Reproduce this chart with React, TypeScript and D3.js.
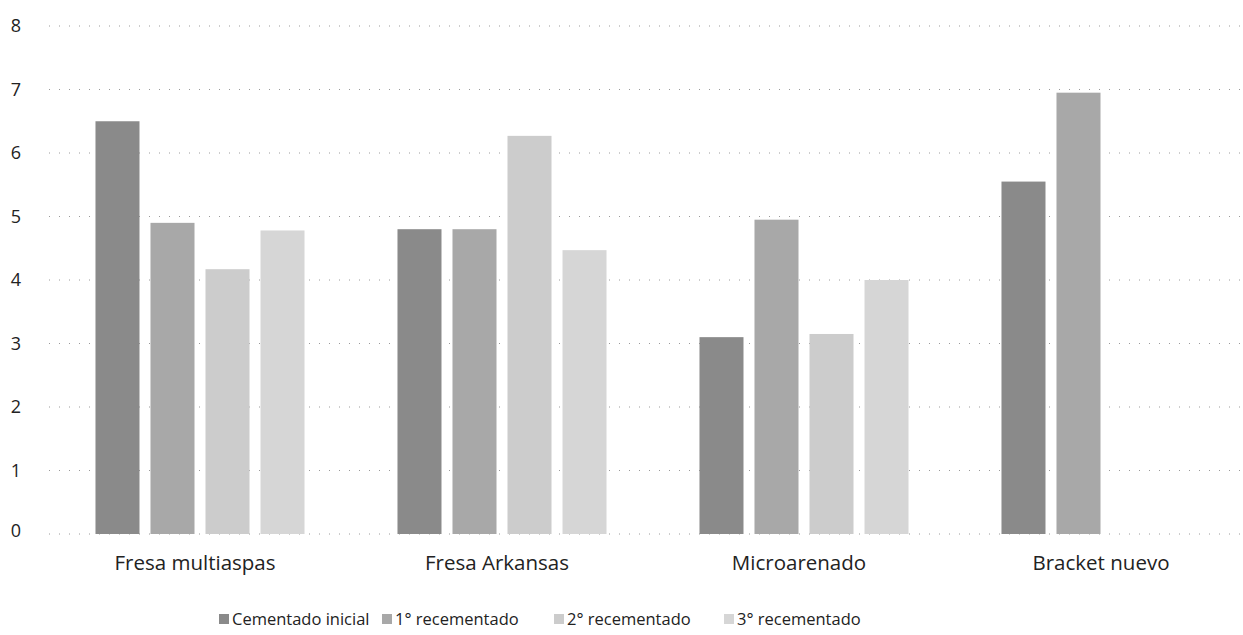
import React from "react";
import * as d3 from "d3";

const categories = ["Fresa multiaspas", "Fresa Arkansas", "Microarenado", "Bracket nuevo"];
const seriesNames = ["Cementado inicial", "1° recementado", "2° recementado", "3° recementado"];
const cementadoInicial = [6.5, 4.8, 3.1, 5.55];
const recementado1 = [4.9, 4.8, 4.95, 6.95];
const recementado2 = [4.17, 6.27, 3.15, null];
const recementado3 = [4.78, 4.47, 4.0, null];
const yTicks = [0, 1, 2, 3, 4, 5, 6, 7, 8];

const seriesValues = [cementadoInicial, recementado1, recementado2, recementado3];
const colors = ["#8a8a8a", "#a8a8a8", "#cccccc", "#d6d6d6"];

const W = 1243;
const H = 635;
const FONT = "'Open Sans', 'Liberation Sans', sans-serif";

export default function App() {
  const x = d3.scaleBand<string>().domain(categories).range([49, 1257]).paddingInner(0).paddingOuter(0);
  const inner = d3.scaleBand<string>().domain(seriesNames).range([0, x.bandwidth()]).paddingInner(0.2).paddingOuter(0.845);
  const y = d3.scaleLinear().domain([0, 8]).range([534, 26]);

  const legendX = [219, 382, 554, 724];

  return (
    <svg width={W} height={H} style={{ position: "absolute", left: 0, top: 0, background: "#fff" }}>
      <rect x={0} y={0} width={W} height={H} fill="#fff" />
      {yTicks.map((t) => (
        <g key={t}>
          <line x1={49} x2={1243} y1={y(t)} y2={y(t)} stroke="#9a9a9a" strokeWidth={1} strokeDasharray="1 9" />
          <text x={16} y={y(t) - (t === 0 ? 3 : 0)} dy="0.35em" textAnchor="middle" fontFamily={FONT} fontSize={18} fill="#222">
            {t}
          </text>
        </g>
      ))}
      {seriesValues.map((vals, si) =>
        vals.map((v, ci) =>
          v == null ? null : (
            <rect
              key={`${si}-${ci}`}
              x={(x(categories[ci]) ?? 0) + (inner(seriesNames[si]) ?? 0)}
              y={y(v)}
              width={inner.bandwidth()}
              height={y(0) - y(v)}
              fill={colors[si]}
            />
          )
        )
      )}
      {categories.map((c) => (
        <text key={c} x={(x(c) ?? 0) + x.bandwidth() / 2 - 5} y={570} textAnchor="middle" fontFamily={FONT} fontSize={20.5} fill="#222">
          {c}
        </text>
      ))}
      {seriesNames.map((s, i) => (
        <g key={s}>
          <rect x={legendX[i]} y={614} width={10} height={10} fill={colors[i]} />
          <text x={legendX[i] + 13} y={619} dy="0.35em" fontFamily={FONT} fontSize={16.5} fill="#222">
            {s}
          </text>
        </g>
      ))}
    </svg>
  );
}
